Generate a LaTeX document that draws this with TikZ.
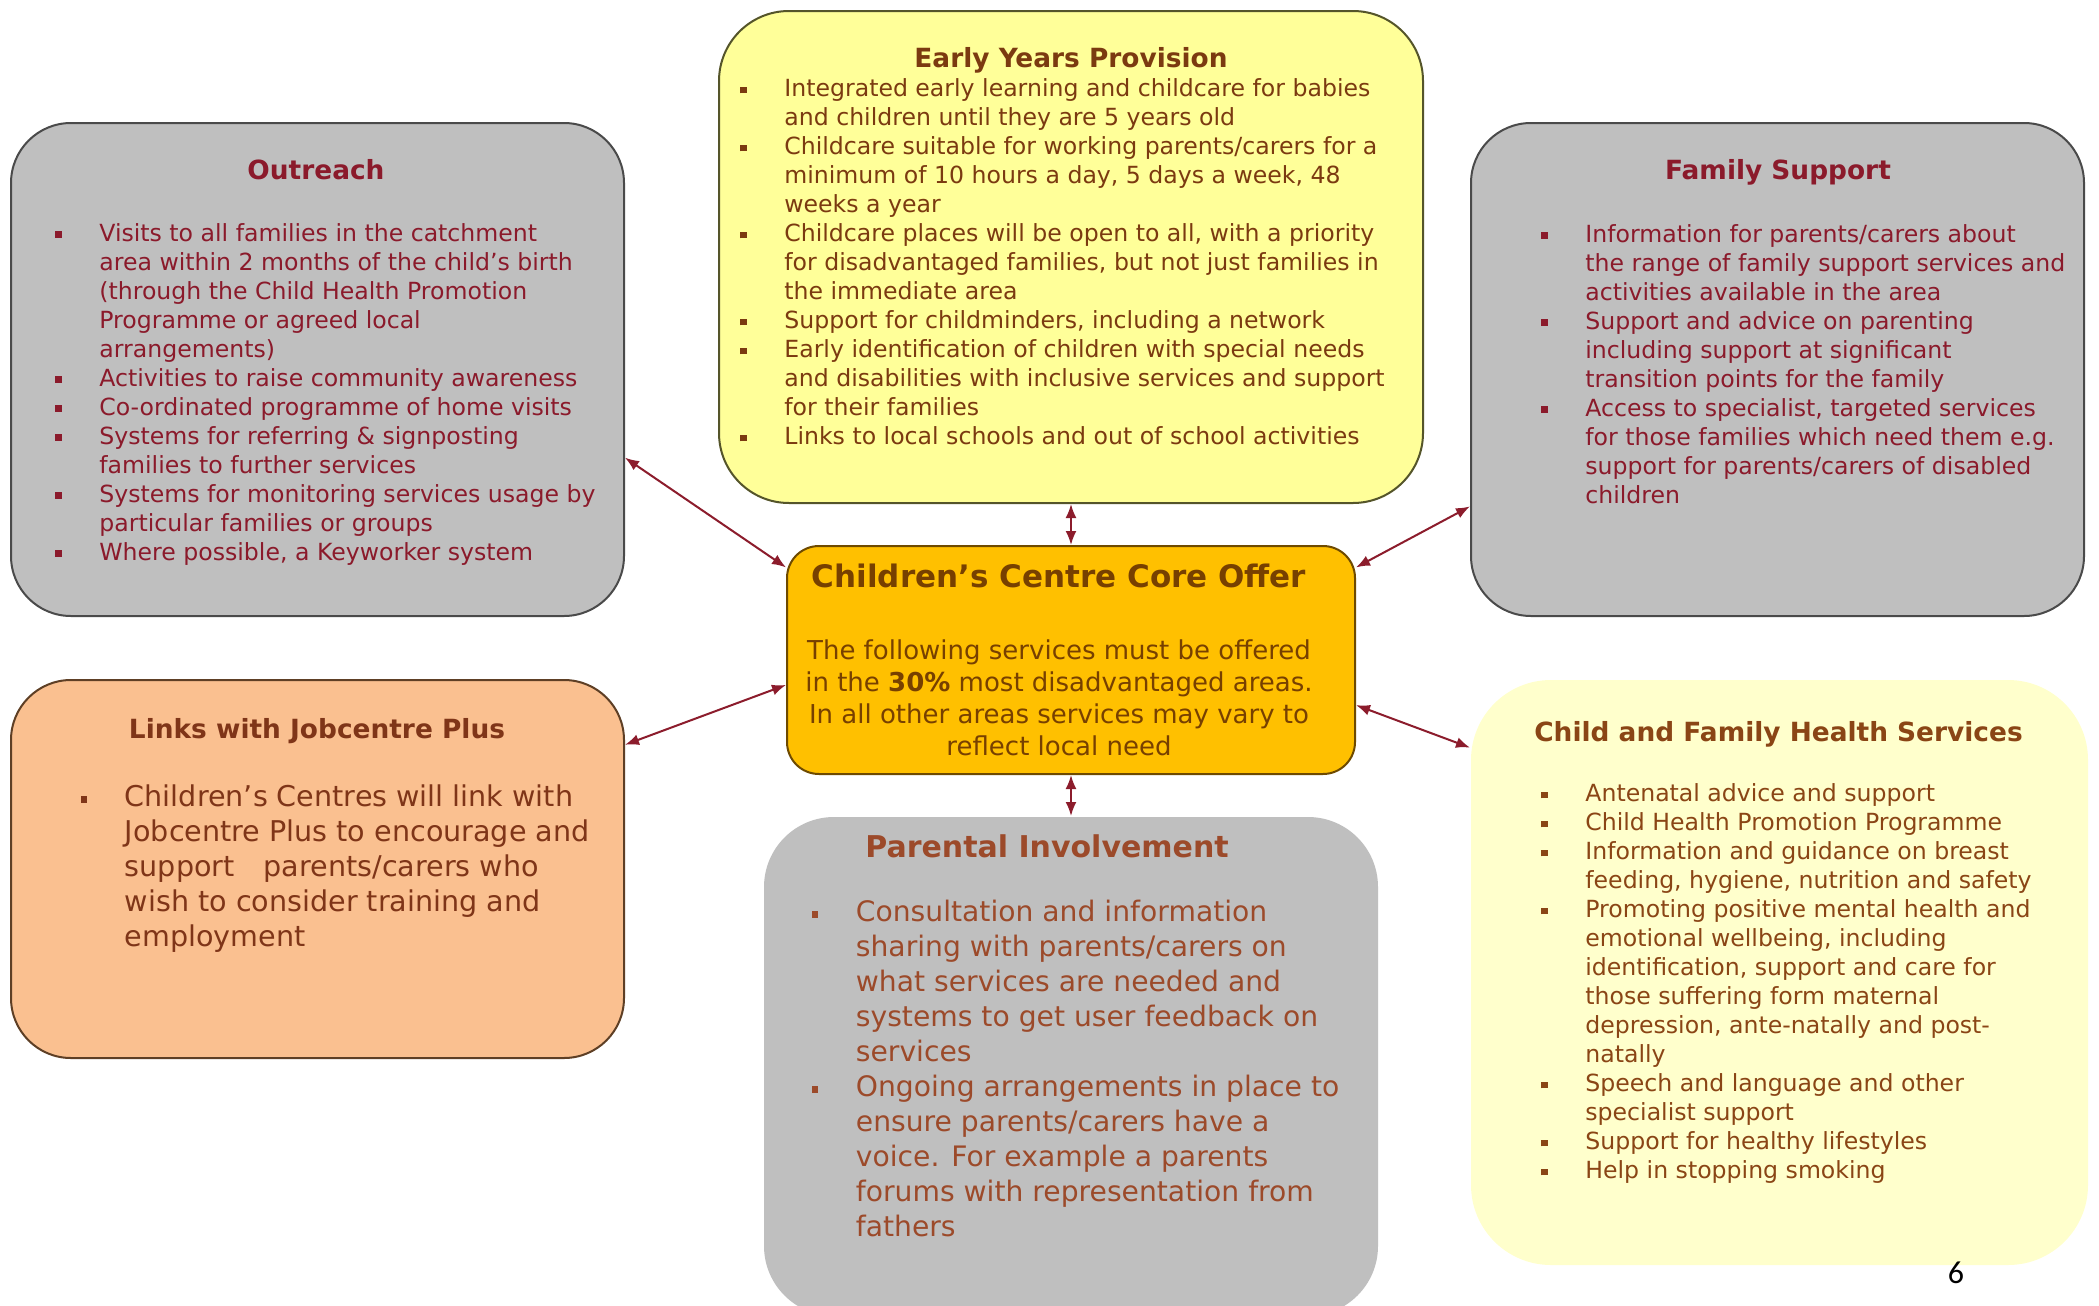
\documentclass[tikz,border=0pt]{standalone}
\usepackage{fontspec}
\setmainfont{DejaVu Sans}
\newfontfamily\pagefont{Carlito}
\usepackage{tikz}
\usetikzlibrary{positioning}
\usetikzlibrary{fit,arrows.meta}
\usepackage{xcolor}
\definecolor{greyfill}{HTML}{BFBFBF}
\definecolor{greyline}{HTML}{4A4A4A}
\definecolor{eyfill}{HTML}{FFFF99}
\definecolor{eyline}{HTML}{55552A}
\definecolor{corefill}{HTML}{FFC000}
\definecolor{coreline}{HTML}{6E4A00}
\definecolor{linkfill}{HTML}{FAC090}
\definecolor{linkline}{HTML}{5E3F25}
\definecolor{childfill}{HTML}{FFFFCC}
\definecolor{outtxt}{HTML}{8B1A2B}
\definecolor{eytxt}{HTML}{7B3A10}
\definecolor{coretxt}{HTML}{774000}
\definecolor{linktxt}{HTML}{7F3518}
\definecolor{partxt}{HTML}{9C4A2A}
\definecolor{childtxt}{HTML}{8A4515}
\definecolor{arrowred}{HTML}{8C1C2C}
\newcommand{\bulitem}{\makebox[22pt][l]{\rule[1.6pt]{3.2pt}{3.2pt}}}

\begin{document}
\begin{tikzpicture}[
    x=0.5pt, y=-0.5pt,
    kasten/.style={rectangle, rounded corners=30pt, inner sep=0pt, line width=1pt},
    titel/.style={anchor=base, inner sep=0pt, font=\bfseries\fontsize{13.2}{15}\selectfont},
    liste/.style={anchor=base west, inner sep=0pt, font=\fontsize{11.8}{14.5}\selectfont},
    grossliste/.style={liste, font=\fontsize{14.1}{17.5}\selectfont},
    pfeil/.style={<->, >={Latex[length=7pt,width=5.5pt]}, draw=arrowred, line width=1pt}
    ]

\fill[white] (0,0) rectangle (2099,1306);
\useasboundingbox (0,0) rectangle (2099,1306);

% the boxes
\node[kasten, fit={(11,123) (624,616)}, fill=greyfill, draw=greyline] (outreach) {};
\node[kasten, fit={(719,11) (1423,503)}, fill=eyfill, draw=eyline, rounded corners=35pt] (early) {};
\node[kasten, fit={(1471,123) (2084,616)}, fill=greyfill, draw=greyline] (family) {};
\node[kasten, fit={(787,546) (1355,774)}, fill=corefill, draw=coreline, rounded corners=16pt] (core) {};
\node[kasten, fit={(11,680) (624,1058)}, fill=linkfill, draw=linkline] (jobcentre) {};
\node[kasten, fit={(764,817) (1378,1316)}, fill=greyfill, rounded corners=35pt] (parental) {};
\node[kasten, fit={(1471,680) (2088,1265)}, fill=childfill, rounded corners=40pt] (health) {};

% Outreach
\node[titel, text=outtxt] (outreachtitle) at (316,179) {Outreach};
\node[liste, text=outtxt] (outreachlist) at (55,241) {%
\begin{tabular}[t]{@{}l@{}l@{}}
\bulitem & Visits to all families in the catchment\\
 & area within 2 months of the child’s birth\\
 & (through the Child Health Promotion\\
 & Programme or agreed local\\
 & arrangements)\\
\bulitem & Activities to raise community awareness\\
\bulitem & Co-ordinated programme of home visits\\
\bulitem & Systems for referring \& signposting\\
 & families to further services\\
\bulitem & Systems for monitoring services usage by\\
 & particular families or groups\\
\bulitem & Where possible, a Keyworker system
\end{tabular}};

% Early Years Provision
\node[titel, text=eytxt] (earlytitle) at (1071,67) {Early Years Provision};
\node[liste, text=eytxt] (earlylist) at (740,96.5) {%
\begin{tabular}[t]{@{}l@{}l@{}}
\bulitem & Integrated early learning and childcare for babies\\
 & and children until they are 5 years old\\
\bulitem & Childcare suitable for working parents/carers for a\\
 & minimum of 10 hours a day, 5 days a week, 48\\
 & weeks a year\\
\bulitem & Childcare places will be open to all, with a priority\\
 & for disadvantaged families, but not just families in\\
 & the immediate area\\
\bulitem & Support for childminders, including a network\\
\bulitem & Early identification of children with special needs\\
 & and disabilities with inclusive services and support\\
 & for their families\\
\bulitem & Links to local schools and out of school activities
\end{tabular}};

% Family Support
\node[titel, text=outtxt] (familytitle) at (1778,179) {Family Support};
\node[liste, text=outtxt] (familylist) at (1541,242) {%
\begin{tabular}[t]{@{}l@{}l@{}}
\bulitem & Information for parents/carers about\\
 & the range of family support services and\\
 & activities available in the area\\
\bulitem & Support and advice on parenting\\
 & including support at significant\\
 & transition points for the family\\
\bulitem & Access to specialist, targeted services\\
 & for those families which need them e.g.\\
 & support for parents/carers of disabled\\
 & children
\end{tabular}};

% Core offer
\node[titel, text=coretxt, font=\bfseries\fontsize{15.5}{17}\selectfont] (coretitle) at (1059,587) {Children’s Centre Core Offer};
\node[anchor=base, inner sep=0pt, text=coretxt, font=\fontsize{13}{16}\selectfont] (coretext) at (1059,659) {%
\begin{tabular}[t]{@{}c@{}}
The following services must be offered\\
in the \textbf{30\%} most disadvantaged areas.\\
In all other areas services may vary to\\
reflect local need
\end{tabular}};

% Links with Jobcentre Plus
\node[titel, text=linktxt] (jobcentretitle) at (317,738) {Links with Jobcentre Plus};
\node[grossliste, text=linktxt, font=\fontsize{14.3}{17.5}\selectfont] (jobcentrelist) at (80.5,806) {%
\begin{tabular}[t]{@{}l@{}l@{}}
\bulitem & Children’s Centres will link with\\
 & Jobcentre Plus to encourage and\\
 & support\hspace{0.7em} parents/carers who\\
 & wish to consider training and\\
 & employment
\end{tabular}};

% Parental Involvement
\node[titel, text=partxt, font=\bfseries\fontsize{15}{17}\selectfont] (parentaltitle) at (1047,857) {Parental Involvement};
\node[grossliste, text=partxt] (parentallist) at (811.5,921) {%
\begin{tabular}[t]{@{}l@{}l@{}}
\bulitem & Consultation and information\\
 & sharing with parents/carers on\\
 & what services are needed and\\
 & systems to get user feedback on\\
 & services\\
\bulitem & Ongoing arrangements in place to\\
 & ensure parents/carers have a\\
 & voice. For example a parents\\
 & forums with representation from\\
 & fathers
\end{tabular}};

% Child and Family Health Services
\node[titel, text=childtxt] (healthtitle) at (1778.5,741) {Child and Family Health Services};
\node[liste, text=childtxt] (healthlist) at (1541,801.5) {%
\begin{tabular}[t]{@{}l@{}l@{}}
\bulitem & Antenatal advice and support\\
\bulitem & Child Health Promotion Programme\\
\bulitem & Information and guidance on breast\\
 & feeding, hygiene, nutrition and safety\\
\bulitem & Promoting positive mental health and\\
 & emotional wellbeing, including\\
 & identification, support and care for\\
 & those suffering form maternal\\
 & depression, ante-natally and post-\\
 & natally\\
\bulitem & Speech and language and other\\
 & specialist support\\
\bulitem & Support for healthy lifestyles\\
\bulitem & Help in stopping smoking
\end{tabular}};

\node[font=\pagefont\fontsize{16}{18}\selectfont] (pagenum) at (1956,1273) {6};

% connectors
\draw[pfeil] (outreach.-16) -- (core.162);
\draw[pfeil] (early.south) -- (core.north);
\draw[pfeil] (family.-156) -- (core.18);
\draw[pfeil] (jobcentre.22) -- (core.185);
\draw[pfeil] (health.144) -- (core.-9);
\draw[pfeil] (core.south) -- (parental.north);
\end{tikzpicture}
\end{document}
